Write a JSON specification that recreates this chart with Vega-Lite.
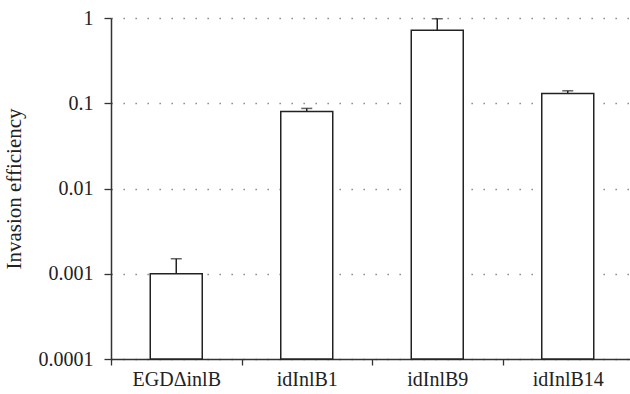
{
  "$schema": "https://vega.github.io/schema/vega-lite/v6.json",
  "autosize": "none",
  "width": 519,
  "height": 341,
  "padding": {"left": 111, "top": 18, "right": 0, "bottom": 35},
  "background": "white",
  "config": {
    "view": {"stroke": null},
    "font": "Liberation Serif",
    "axis": {
      "labelFont": "Liberation Serif",
      "titleFont": "Liberation Serif",
      "labelColor": "#222",
      "titleColor": "#222",
      "domainColor": "#333",
      "tickColor": "#333"
    }
  },
  "data": {
    "values": [
      {"strain": "EGDΔinlB", "value": 0.001, "err": 0.0015},
      {"strain": "idInlB1", "value": 0.08, "err": 0.087},
      {"strain": "idInlB9", "value": 0.72, "err": 0.98},
      {"strain": "idInlB14", "value": 0.13, "err": 0.14}
    ]
  },
  "encoding": {
    "x": {
      "field": "strain",
      "type": "nominal",
      "sort": null,
      "scale": {"range": [0, 522], "paddingInner": 0, "paddingOuter": 0},
      "axis": {
        "title": null,
        "labelAngle": 0,
        "labelFontSize": 20,
        "labelPadding": 4,
        "tickBand": "extent",
        "tickSize": 6,
        "tickWidth": 1.3,
        "domainWidth": 1.5,
        "grid": false
      }
    }
  },
  "layer": [
    {
      "mark": {"type": "bar", "size": 52, "fill": "white", "stroke": "#222", "strokeWidth": 1.5},
      "encoding": {
        "y": {
          "field": "value",
          "type": "quantitative",
          "scale": {"type": "log", "domain": [0.0001, 1]},
          "axis": {
            "title": "Invasion efficiency",
            "titleFontSize": 21,
            "titleFontWeight": "normal",
            "titlePadding": 14,
            "values": [0.0001, 0.001, 0.01, 0.1, 1],
            "format": ".4~f",
            "labelFontSize": 20,
            "labelPadding": 11,
            "tickSize": 7,
            "tickWidth": 1.3,
            "domainWidth": 1.5,
            "grid": true,
            "gridColor": "#777",
            "gridWidth": 1.3,
            "gridDash": [1.3, 10.7]
          }
        },
        "y2": {"datum": 0.0001}
      }
    },
    {
      "mark": {"type": "rule", "stroke": "#222", "strokeWidth": 1.5},
      "encoding": {
        "y": {"field": "value", "type": "quantitative"},
        "y2": {"field": "err"}
      }
    },
    {
      "mark": {"type": "tick", "color": "#222", "size": 11, "thickness": 1.5, "orient": "horizontal"},
      "encoding": {
        "y": {"field": "err", "type": "quantitative"}
      }
    }
  ]
}
